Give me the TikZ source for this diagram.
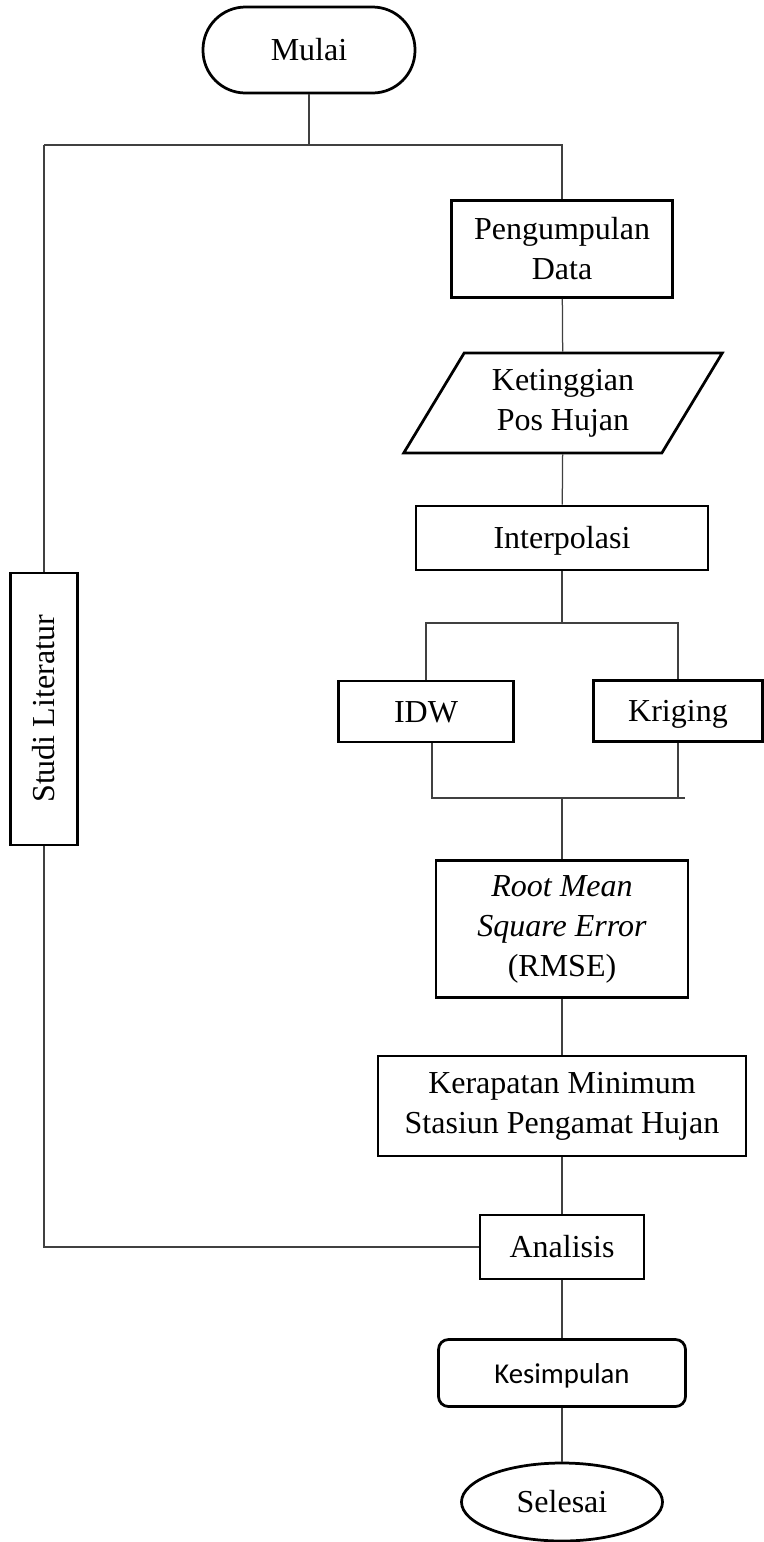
\documentclass[tikz,border=0pt]{standalone}
\usepackage{fontspec}
\setmainfont{Liberation Serif}
\newfontfamily\calfont{Carlito}
\usetikzlibrary{shapes.geometric}
\tikzset{
  box/.style={draw, line width=1.1pt, inner sep=0pt, text height=1.05em, text depth=0.2em},
  multibox/.style={draw, line width=1.1pt, inner sep=0pt, align=center},
  link/.style={line width=0.5pt, black!75},
}
\begin{document}
\begin{tikzpicture}[x=0.4pt, y=-0.4pt, font=\fontsize{12.8}{16}\selectfont]
\useasboundingbox (0,0) rectangle (764,1542);
\node[box, rounded corners=17pt, minimum width=84.8pt, minimum height=34.4pt] (mulai) at (309,50) {Mulai};
\node[multibox, minimum width=88.4pt, minimum height=38.8pt] (pengumpulan) at (562,249) {Pengumpulan\\Data};
\node[multibox, trapezium, trapezium left angle=57.4, trapezium right angle=122.6, trapezium stretches=true,
      minimum width=127.6pt, minimum height=40pt] (ketinggian) at (563,403) {Ketinggian\\Pos Hujan};
\node[box, minimum width=116.8pt, minimum height=25.6pt] (interpolasi) at (562,538) {Interpolasi};
\node[box, minimum width=70pt, minimum height=24.4pt] (idw) at (426,711.5) {IDW};
\node[box, minimum width=67.6pt, minimum height=24.4pt] (kriging) at (678,711) {Kriging};
\node[multibox, minimum width=100.8pt, minimum height=54.8pt] (rmse) at (562,929) {\textit{Root Mean}\\\textit{Square Error}\\(RMSE)};
\node[multibox, minimum width=147.2pt, minimum height=40pt] (kerapatan) at (562,1106) {Kerapatan Minimum\\Stasiun Pengamat Hujan};
\node[box, minimum width=65.6pt, minimum height=25.6pt] (analisis) at (562,1247) {Analisis};
\node[box, rounded corners=4pt, minimum width=98.8pt, minimum height=26.8pt, font=\calfont\fontsize{11.5}{14}\selectfont] (kesimpulan) at (562,1373) {Kesimpulan};
\node[box, ellipse, minimum width=80.4pt, minimum height=31.2pt] (selesai) at (562,1502) {Selesai};
\node[box, rotate=90, minimum width=108.8pt, minimum height=26.8pt] (studi) at (44,709) {Studi Literatur};

\coordinate (split) at (309,145);
\coordinate (tl) at (44,145);
\coordinate (tr) at (562,145);
\coordinate (bl) at (44,1247);
\coordinate (branch) at (562,623);
\coordinate (ml) at (432,798);
\coordinate (mr) at (685,798);
\coordinate (merge) at (562,798);

\draw[link] (mulai) -- (split);
\draw[link] (tl) -- (tr) -- (pengumpulan);
\draw[link] (pengumpulan) -- (ketinggian);
\draw[link] (ketinggian) -- (interpolasi);
\draw[link] (interpolasi) -- (branch);
\draw[link] (idw) |- (branch) -| (kriging);
\draw[link] (idw.south -| ml) -- (ml) -- (mr);
\draw[link] (kriging) -- (kriging |- merge);
\draw[link] (merge) -- (rmse);
\draw[link] (rmse) -- (kerapatan);
\draw[link] (kerapatan) -- (analisis);
\draw[link] (analisis) -- (kesimpulan);
\draw[link] (kesimpulan) -- (selesai);
\draw[link] (tl) -- (studi);
\draw[link] (studi) -- (bl) -- (analisis);
\end{tikzpicture}
\end{document}
